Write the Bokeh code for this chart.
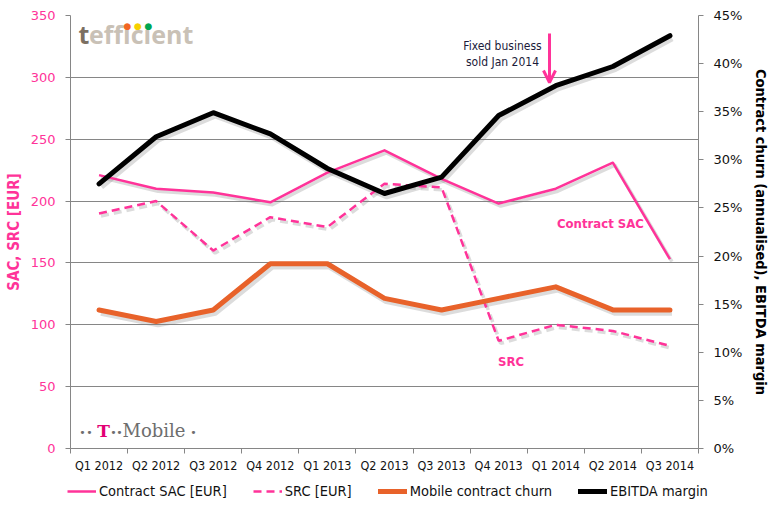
import numpy as np
from bokeh.plotting import figure
from bokeh.layouts import column
from bokeh.models import (Range1d, LinearAxis, FixedTicker, Legend, LegendItem,
                          Label, Arrow, OpenHead)
from bokeh.embed import file_html
from bokeh.resources import INLINE

# ---------------- data ----------------
quarters = ["Q1 2012", "Q2 2012", "Q3 2012", "Q4 2012", "Q1 2013", "Q2 2013",
            "Q3 2013", "Q4 2013", "Q1 2014", "Q2 2014", "Q3 2014"]
contract_sac_eur = [221, 210, 207, 199, 223, 241, 218, 198, 210, 231, 153]
src_eur = [190, 200, 160, 187, 179, 214, 211, 87, 100, 95, 83]
churn_pct = [14.4, 13.2, 14.4, 19.2, 19.2, 15.6, 14.4, 15.6, 16.8, 14.4, 14.4]
ebitda_pct = [27.5, 32.4, 34.9, 32.7, 29.1, 26.5, 28.2, 34.6, 37.7, 39.7, 42.9]
left_ticks = [0, 50, 100, 150, 200, 250, 300, 350]
right_ticks = [0, 5, 10, 15, 20, 25, 30, 35, 40, 45]
series_names = ["Contract SAC [EUR]", "SRC [EUR]", "Mobile contract churn", "EBITDA margin"]

# ---------------- style ----------------
PINK = "#FF3399"
ORANGE = "#E8622A"
GRID = "#868686"
COND = "DejaVu Sans Condensed"
SANS = "DejaVu Sans"

n = len(quarters)
xpos = np.arange(n) + 0.5
FW, FH = 628, 433
LMAX, RMAX = 350, 45
BL, BR = 70, 72

p = figure(frame_width=FW, frame_height=FH, x_range=Range1d(0, n), y_range=Range1d(0, LMAX),
           output_backend="svg", toolbar_location=None,
           min_border_left=BL, min_border_right=BR, min_border_top=15, min_border_bottom=30,
           outline_line_color=None, background_fill_color="white", border_fill_color="white")
p.frame_align = False
p.extra_y_ranges = {"pct": Range1d(0, RMAX)}

# shifted ranges used only to draw soft drop shadows a few pixels right / down
SDX, SDY = 2.0, 2.5
p.extra_x_ranges = {"sx": Range1d(-SDX * n / FW, n - SDX * n / FW)}
p.extra_y_ranges.update({
    "sl": Range1d(SDY * LMAX / FH, LMAX + SDY * LMAX / FH),
    "sp": Range1d(SDY * RMAX / FH, RMAX + SDY * RMAX / FH),
})

# x axis: labels at category centres, tick marks between categories
xa = p.xaxis[0]
xa.ticker = FixedTicker(ticks=list(xpos), minor_ticks=list(range(n + 1)))
xa.major_label_overrides = {float(x): q for x, q in zip(xpos, quarters)}
xa.major_tick_line_color = None
xa.minor_tick_line_color = GRID
xa.minor_tick_out = 5
xa.minor_tick_in = 0
xa.axis_line_color = GRID
xa.major_label_text_font = COND
xa.major_label_text_font_size = "12.5px"
xa.major_label_text_color = "#111111"
xa.major_label_standoff = 3

# left axis
ya = p.yaxis[0]
ya.ticker = FixedTicker(ticks=left_ticks)
ya.axis_line_color = GRID
ya.major_tick_line_color = GRID
ya.major_tick_out = 5
ya.major_tick_in = 0
ya.minor_tick_line_color = None
ya.major_label_text_color = PINK
ya.major_label_text_font = SANS
ya.major_label_text_font_size = "13px"
ya.major_label_standoff = 10
ya.axis_label = "SAC, SRC [EUR]"
ya.axis_label_text_color = PINK
ya.axis_label_text_font = COND
ya.axis_label_text_font_style = "bold"
ya.axis_label_text_font_size = "15px"
ya.axis_label_standoff = 5

# right axis
ra = LinearAxis(y_range_name="pct", ticker=FixedTicker(ticks=right_ticks),
                major_label_overrides={t: f"{t}%" for t in right_ticks})
ra.axis_line_color = GRID
ra.major_tick_line_color = GRID
ra.major_tick_out = 5
ra.major_tick_in = 0
ra.minor_tick_line_color = None
ra.major_label_text_color = "#111111"
ra.major_label_text_font = SANS
ra.major_label_text_font_size = "13px"
ra.major_label_standoff = 10
ra.axis_label = "Contract churn (annualised), EBITDA margin"
ra.axis_label_text_color = "#000000"
ra.axis_label_text_font = COND
ra.axis_label_text_font_style = "bold"
ra.axis_label_text_font_size = "14.5px"
ra.axis_label_standoff = 8
p.add_layout(ra, "right")

p.xgrid.visible = False
p.ygrid.ticker = FixedTicker(ticks=left_ticks)
p.ygrid.grid_line_color = GRID
p.ygrid.grid_line_width = 1

# ---------------- series ----------------
SH = dict(line_color="#808080", line_alpha=0.28, x_range_name="sx")
p.line(xpos, contract_sac_eur, line_width=3.5, y_range_name="sl", line_join="round", **SH)
p.line(xpos, src_eur, line_width=3.5, y_range_name="sl", line_dash="8 5", **SH)
p.line(xpos, churn_pct, line_width=6.5, y_range_name="sp", line_join="round", **SH)
p.line(xpos, ebitda_pct, line_width=6.5, y_range_name="sp", line_join="round", **SH)

STY = [dict(line_color=PINK, line_width=2.5, line_join="round"),
       dict(line_color=PINK, line_width=2.5, line_dash="8 5"),
       dict(line_color=ORANGE, line_width=5, line_join="round", line_cap="round"),
       dict(line_color="black", line_width=5, line_join="round", line_cap="round")]
p.line(xpos, contract_sac_eur, **STY[0])
p.line(xpos, src_eur, **STY[1])
p.line(xpos, churn_pct, y_range_name="pct", **STY[2])
p.line(xpos, ebitda_pct, y_range_name="pct", **STY[3])

# ---------------- annotations ----------------
def px_x(page_x):
    return (page_x - 70.0) / (FW / n)

def px_y(page_y):
    return (448.0 - page_y) * LMAX / FH

p.add_layout(Label(x=px_x(556.5), y=px_y(223), text="Contract SAC", text_color=PINK,
                   text_font=COND, text_font_style="bold", text_font_size="13px",
                   text_baseline="middle", text_align="left"))
p.add_layout(Label(x=px_x(510.5), y=px_y(361), text="SRC", text_color=PINK,
                   text_font=COND, text_font_style="bold", text_font_size="13px",
                   text_baseline="middle", text_align="center"))

NAVY = "#1b1b3a"
p.add_layout(Label(x=px_x(502), y=px_y(45), text="Fixed business", text_color=NAVY,
                   text_font=COND, text_font_size="12px", text_baseline="middle",
                   text_align="center"))
p.add_layout(Label(x=px_x(502), y=px_y(61), text="sold Jan 2014", text_color=NAVY,
                   text_font=COND, text_font_size="12px", text_baseline="middle",
                   text_align="center"))
p.add_layout(Arrow(end=OpenHead(size=12, line_color=PINK, line_width=3),
                   x_start=px_x(549), y_start=px_y(33), x_end=px_x(549), y_end=px_y(82),
                   line_color=PINK, line_width=3))

# tefficient logo
p.add_layout(Label(x=px_x(78), y=px_y(33), text="t", text_color="#7b6f62",
                   text_font="Open Sans", text_font_style="bold", text_font_size="25px",
                   text_baseline="middle", text_align="left"))
p.add_layout(Label(x=px_x(78), y=px_y(33), x_offset=10.5, text="eff\u0131c\u0131ent",
                   text_color="#c9c1b6", text_font="Open Sans", text_font_style="bold",
                   text_font_size="25px", text_baseline="middle", text_align="left"))
for dx, col in [(127, "#F26522"), (137.5, "#F7D000"), (148, "#00A651")]:
    p.add_layout(Label(x=px_x(dx), y=px_y(25), text="\u25cf", text_color=col,
                       text_font=SANS, text_font_size="9px", text_baseline="middle",
                       text_align="center"))

# T-Mobile logo
TM_GRAY = "#6e6e6e"
for dx in (82, 89, 113, 119, 193):
    p.add_layout(Label(x=px_x(dx), y=px_y(431), text="\u00b7", text_color=TM_GRAY,
                       text_font="DejaVu Serif", text_font_style="bold",
                       text_font_size="17px", text_baseline="middle", text_align="center"))
p.add_layout(Label(x=px_x(103), y=px_y(430), text="T", text_color="#E20074",
                   text_font="DejaVu Serif", text_font_style="bold", text_font_size="17px",
                   text_baseline="middle", text_align="center"))
p.add_layout(Label(x=px_x(122), y=px_y(430), text="Mobile",
                   text_color=TM_GRAY, text_font="DejaVu Serif", text_font_size="18px",
                   text_baseline="middle", text_align="left"))

# ---------------- legend strip below the chart ----------------
LH = 30
lg = figure(width=BL + FW + BR, height=LH, x_range=Range1d(0, n),
            y_range=Range1d(-1000, -970), x_axis_type=None, y_axis_type=None,
            output_backend="svg", toolbar_location=None, min_border=0,
            outline_line_color=None, background_fill_color="white",
            border_fill_color="white")
lg.frame_align = False
lg.xgrid.visible = False
lg.ygrid.visible = False
# invisible copies of the series (outside the strip's range) that feed the legend
legend_data = [contract_sac_eur, src_eur, churn_pct, ebitda_pct]
items = []
for name, sty, vals in zip(series_names, STY, legend_data):
    r = lg.line(xpos, vals, **sty)
    items.append(LegendItem(label=name, renderers=[r]))
legend = Legend(items=items, orientation="horizontal", location=(67, 7))
legend.label_text_font = COND
legend.label_text_font_size = "14.5px"
legend.label_text_color = "#111111"
legend.glyph_width = 29
legend.glyph_height = 20
legend.label_height = 20
legend.label_standoff = 3
legend.spacing = 26
legend.padding = 0
legend.margin = 0
legend.border_line_color = None
legend.background_fill_alpha = 0
lg.add_layout(legend, "center")

layout = column(p, lg, spacing=0)
open("out.html", "w").write(file_html(layout, INLINE))
